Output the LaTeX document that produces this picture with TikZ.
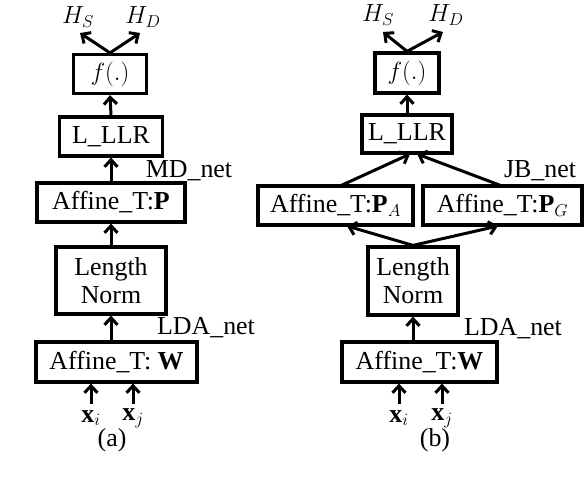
\documentclass[tikz,border=0pt]{standalone}
\usepackage{amsmath, amssymb}
\usepackage{fontspec}
\setmainfont{Liberation Serif}
\usetikzlibrary{arrows.meta, positioning}

\begin{document}
\begin{tikzpicture}[
  x=1bp, y=-1bp,
  every node/.style={font=\fontsize{26}{28}\selectfont},
  block/.style={
    draw, line width=3.2bp, inner sep=0pt,
    minimum height=39bp, align=center
  },
  lbl/.style={inner sep=0pt},
  arr/.style={-{Straight Barb[length=7bp, width=13bp, line width=3bp]}, line width=3bp}
]
\useasboundingbox (0,0) rectangle (584,490);

% (a) MD_net
\node[block, minimum width=73bp] (fA) at (110,74) {$f(.)$};
\node[block, minimum width=103bp] (llrA) at (111,136.5) {L\_LLR};
\node[block, minimum width=148bp] (pA) at (111,202.5) {Affine\_T:$\mathbf{P}$};
\node[block, minimum width=110bp, minimum height=67bp] (lnA) at (111,280.5) {Length\\Norm};
\node[block, minimum width=161bp, minimum height=40bp] (wA) at (116.5,362) {Affine\_T: $\mathbf{W}$};

\node[lbl] (hsA) at (78,17) {$H_S$};
\node[lbl] (hdA) at (143,17) {$H_D$};
\node[lbl] (mdnet) at (189,171) {MD\_net};
\node[lbl] (ldaA) at (206,328) {LDA\_net};
\node[lbl] (xiA) at (91,418) {$\mathbf{x}_i$};
\node[lbl] (xjA) at (133,418) {$\mathbf{x}_j$};
\node[lbl] (capA) at (112,440) {(a)};

\draw[arr] (xiA.north |- 0,404) -- (xiA.north |- wA.south);
\draw[arr] (xjA.north |- 0,404) -- (xjA.north |- wA.south);
\draw[arr] (wA.north -| lnA) -- (lnA.south);
\draw[arr] (lnA.north) -- (pA.south);
\draw[arr] (pA.north) -- (llrA.south);
\draw[arr] (llrA.north) -- (fA.south);
\draw[arr] (fA.north) -- (80,33) coordinate (tsA);
\draw[arr] (fA.north) -- (140,33) coordinate (tdA);

% (b) JB_net
\node[block, minimum width=64bp, minimum height=40bp] (fB) at (407,73) {$f(.)$};
\node[block, minimum width=90bp, minimum height=38bp] (llrB) at (407,134) {L\_LLR};
\node[block, minimum width=155bp] (paB) at (335.5,205.5) {Affine\_T:$\mathbf{P}_A$};
\node[block, minimum width=159bp] (pgB) at (502.5,205.5) {Affine\_T:$\mathbf{P}_G$};
\node[block, minimum width=90bp, minimum height=68bp] (lnB) at (413,281) {Length\\Norm};
\node[block, minimum width=155bp, minimum height=40bp] (wB) at (419.5,362) {Affine\_T:$\mathbf{W}$};

\node[lbl] (hsB) at (378,15) {$H_S$};
\node[lbl] (hdB) at (446,15) {$H_D$};
\node[lbl] (jbnet) at (540,171) {JB\_net};
\node[lbl] (ldaB) at (513,329) {LDA\_net};
\node[lbl] (xiB) at (399,418) {$\mathbf{x}_i$};
\node[lbl] (xjB) at (442,418) {$\mathbf{x}_j$};
\node[lbl] (capB) at (435,440) {(b)};

\draw[arr] (xiB.north |- 0,404) -- (xiB.north |- wB.south);
\draw[arr] (xjB.north |- 0,404) -- (xjB.north |- wB.south);
\draw[arr] (wB.north -| lnB) -- (lnB.south);
\draw[arr] (lnB.north) -- (347,226);
\draw[arr] (lnB.north) -- (498,226);
\draw[arr] (340,186) -- (410,154);
\draw[arr] (502,186) -- (417,154);
\draw[arr] (llrB.north -| fB) -- (fB.south);
\draw[arr] (fB.north) -- (383,32);
\draw[arr] (fB.north) -- (443,32);

\end{tikzpicture}
\end{document}
